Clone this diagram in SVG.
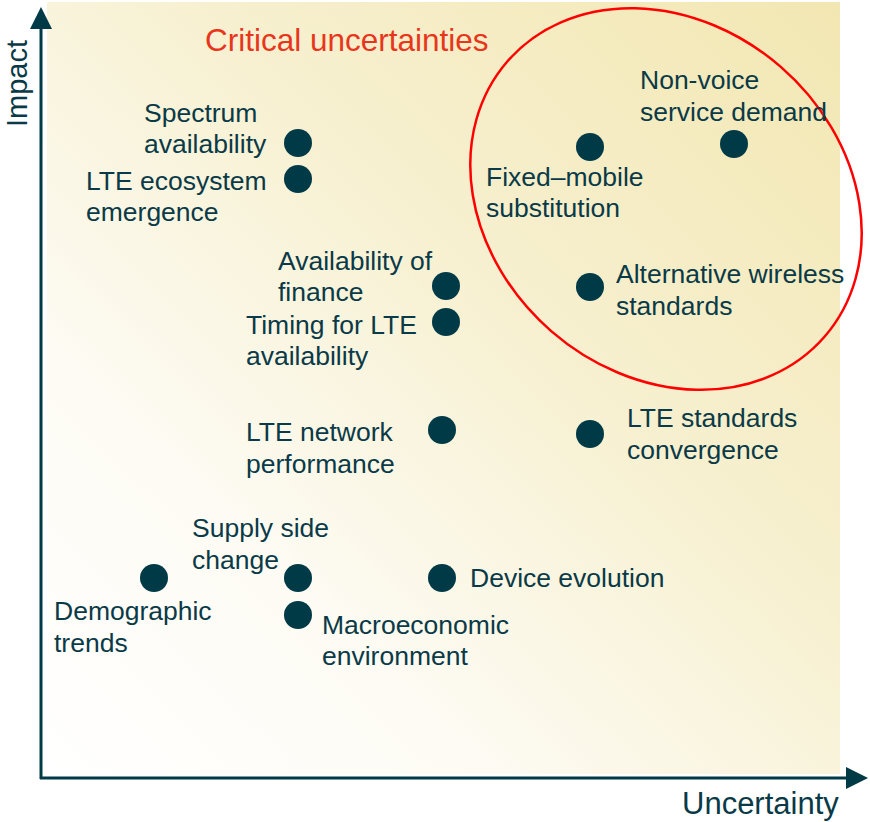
<svg xmlns="http://www.w3.org/2000/svg" width="870" height="822" viewBox="0 0 870 822">
<style>
.lbl{font-family:"Liberation Sans",Arial,sans-serif;font-size:26.5px;fill:#0a3a47}
.ax{font-family:"Liberation Sans",Arial,sans-serif;font-size:31px;fill:#0a3a47}
.dot{fill:#003a47}
.axis{stroke:#003a47;stroke-width:3;fill:none}
</style>
<defs>
<linearGradient id="bg" x1="1" y1="0" x2="0" y2="1">
<stop offset="0" stop-color="#f2e7b2"/>
<stop offset="0.4" stop-color="#f7f0d0"/>
<stop offset="0.72" stop-color="#fdfbf3"/>
<stop offset="1" stop-color="#ffffff"/>
</linearGradient>
</defs>
<rect x="47" y="2" width="793" height="772" fill="url(#bg)"/>
<g id="axes">
<line class="axis" x1="41" y1="779" x2="41" y2="26"/>
<line class="axis" x1="40" y1="778" x2="850" y2="778"/>
<polygon points="41,7 30,29 52,29" fill="#003a47"/>
<polygon points="868,778 846,767 846,789" fill="#003a47"/>
<text class="ax" style="font-size:29px" transform="translate(27,127) rotate(-90)">Impact</text>
<text class="ax" x="682" y="814">Uncertainty</text>
</g>
<g id="critical">
<ellipse cx="666" cy="199" rx="210" ry="175" transform="rotate(41 666 199)" fill="none" stroke="#ff0000" stroke-width="2.5"/>
<text x="205" y="51" font-family="'Liberation Sans',Arial,sans-serif" font-size="31.5" fill="#e8361c">Critical uncertainties</text>
</g>
<g id="spectrum"><circle class="dot" cx="298" cy="143" r="14"/><text class="lbl" x="144" y="122">Spectrum</text><text class="lbl" x="144" y="153">availability</text></g>
<g id="ecosystem"><circle class="dot" cx="298" cy="179" r="14"/><text class="lbl" x="86" y="190">LTE ecosystem</text><text class="lbl" x="86" y="221">emergence</text></g>
<g id="finance"><circle class="dot" cx="446" cy="286" r="14"/><text class="lbl" x="278" y="270">Availability of</text><text class="lbl" x="278" y="301">finance</text></g>
<g id="timing"><circle class="dot" cx="446" cy="322" r="14"/><text class="lbl" x="246" y="334">Timing for LTE</text><text class="lbl" x="246" y="365">availability</text></g>
<g id="netperf"><circle class="dot" cx="442" cy="430" r="14"/><text class="lbl" x="246" y="441">LTE network</text><text class="lbl" x="246" y="473">performance</text></g>
<g id="stdconv"><circle class="dot" cx="590" cy="434" r="14"/><text class="lbl" x="627" y="427">LTE standards</text><text class="lbl" x="627" y="459">convergence</text></g>
<g id="fixedmobile"><circle class="dot" cx="590" cy="147" r="14"/><text class="lbl" x="486" y="186">Fixed–mobile</text><text class="lbl" x="486" y="217">substitution</text></g>
<g id="nonvoice"><circle class="dot" cx="734" cy="144" r="14"/><text class="lbl" x="640" y="89">Non-voice</text><text class="lbl" x="640" y="121">service demand</text></g>
<g id="altwireless"><circle class="dot" cx="590" cy="287" r="14"/><text class="lbl" x="616" y="283">Alternative wireless</text><text class="lbl" x="616" y="315">standards</text></g>
<g id="demographic"><circle class="dot" cx="154" cy="578" r="14"/><text class="lbl" x="54" y="620">Demographic</text><text class="lbl" x="54" y="652">trends</text></g>
<g id="supply"><circle class="dot" cx="298" cy="578" r="14"/><text class="lbl" x="192" y="537">Supply side</text><text class="lbl" x="192" y="569">change</text></g>
<g id="macro"><circle class="dot" cx="298" cy="615" r="14"/><text class="lbl" x="322" y="634">Macroeconomic</text><text class="lbl" x="322" y="665">environment</text></g>
<g id="device"><circle class="dot" cx="442" cy="578" r="14"/><text class="lbl" x="470" y="587">Device evolution</text></g>
</svg>
